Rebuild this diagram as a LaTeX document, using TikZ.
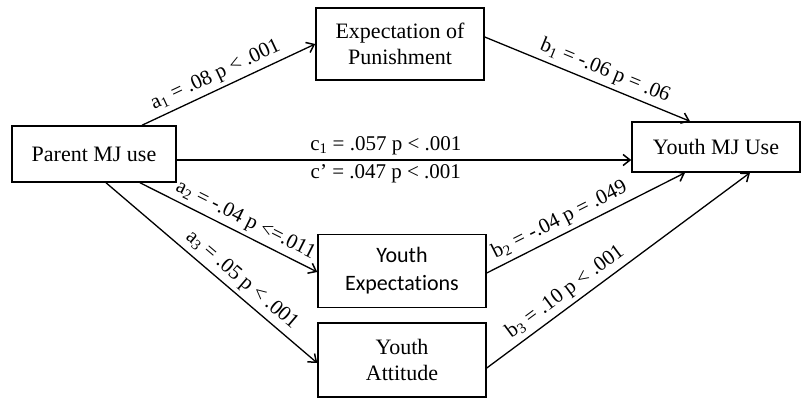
\documentclass[tikz,border=0pt]{standalone}
\usepackage{fontspec}
\setmainfont{Liberation Serif}
\newfontfamily\boxsans[Ligatures=NoCommon]{Carlito}
\usetikzlibrary{positioning, arrows.meta}

\begin{document}
\begin{tikzpicture}[
    x=1pt, y=-1pt,
    varbox/.style={rectangle, draw, line width=1.5pt, align=center, minimum width=168pt,
        font=\fontsize{22}{26}\selectfont, inner sep=2pt},
    path/.style={line width=1.3pt, -{Straight Barb[length=7pt, width=11pt, line width=1.5pt]}},
    coef/.style={font=\fontsize{21}{24}\selectfont, sloped, inner sep=4pt}
]
\useasboundingbox (0,0) rectangle (801,398);

% Variables
\node[varbox, minimum width=164pt, minimum height=56pt] (parent) at (94,154) {Parent MJ use};
\node[varbox, minimum height=72pt] (punish) at (400,44) {Expectation of\\Punishment};
\node[varbox, minimum height=50pt] (youthmj) at (716,147) {Youth MJ Use};
\node[varbox, minimum height=73pt, font=\boxsans\fontsize{22}{28}\selectfont] (yexp) at (402,271) {Youth\\Expectations};
\node[varbox, minimum height=74pt] (yatt) at (402,360) {Youth\\Attitude};

% Paths
\draw[path] ([xshift=48pt]parent.north) -- node[coef, above, pos=0.46] {a\textsubscript{1} = .08 p < .001} (punish.west);
\draw[path] ([yshift=7pt]punish.east) -- node[coef, above, pos=0.56] {b\textsubscript{1} = -.06 p = .06} ([xshift=-26pt]youthmj.north);
\draw[path] ([yshift=-6pt]parent.east) -- node[coef, above, pos=0.46] {c\textsubscript{1} = .057 p < .001}
    node[coef, below, pos=0.46] {c' = .047 p < .001} ([yshift=-13pt]youthmj.west);
\draw[path] ([xshift=46pt]parent.south) -- node[coef, above, pos=0.56] {a\textsubscript{2} = -.04 p <=.011} ([yshift=-1pt]yexp.west);
\draw[path] ([xshift=12pt]parent.south) -- node[coef, above, pos=0.6] {a\textsubscript{3} = .05 p < .001} ([yshift=-3pt]yatt.west);
\draw[path] ([yshift=-2pt]yexp.east) -- node[coef, above, pos=0.4] {b\textsubscript{2} = -.04 p = .049} ([xshift=-31pt]youthmj.south);
\draw[path] ([yshift=-8pt]yatt.east) -- node[coef, above, pos=0.33] {b\textsubscript{3} = .10 p < .001} ([xshift=34pt]youthmj.south);

\end{tikzpicture}
\end{document}
